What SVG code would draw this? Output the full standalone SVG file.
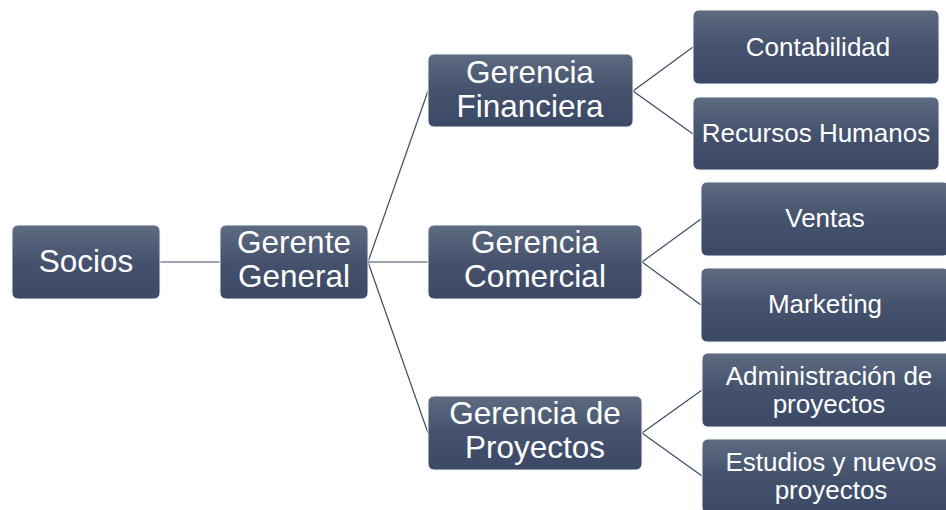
<svg xmlns="http://www.w3.org/2000/svg" width="946" height="510" viewBox="0 0 946 510">
<defs>
<linearGradient id="g" x1="0" y1="0" x2="0" y2="1">
<stop offset="0" stop-color="#5e6b81"/>
<stop offset="0.5" stop-color="#44526d"/>
<stop offset="1" stop-color="#3b4966"/>
</linearGradient>
</defs>
<style>
.box{fill:url(#g);stroke:#f2f4f7;stroke-width:1}
.t{font-family:"Liberation Sans",Arial,sans-serif;fill:#ffffff;text-anchor:middle}
.big{font-size:31.5px}
.sm{font-size:26px}
.c{stroke:#3d4b66;stroke-width:1.2;fill:none}
</style>
<rect width="946" height="510" fill="#ffffff"/>
<g id="connectors">
<line class="c" x1="160" y1="262" x2="220" y2="262"/>
<line class="c" x1="368" y1="262" x2="428" y2="91"/>
<line class="c" x1="368" y1="262" x2="428" y2="262"/>
<line class="c" x1="368" y1="262" x2="428" y2="433"/>
<line class="c" x1="633" y1="91" x2="693" y2="47"/>
<line class="c" x1="633" y1="91" x2="693" y2="134"/>
<line class="c" x1="642" y1="262" x2="701" y2="219"/>
<line class="c" x1="642" y1="262" x2="701" y2="305"/>
<line class="c" x1="642" y1="433" x2="702" y2="390"/>
<line class="c" x1="642" y1="433" x2="702" y2="476"/>
</g>
<g id="socios">
<rect class="box" x="12" y="225" width="148" height="74" rx="6"/>
<text class="t big" x="86" y="272">Socios</text>
</g>
<g id="gerente-general">
<rect class="box" x="220" y="225" width="148" height="74" rx="6"/>
<text class="t big" x="294" y="253">Gerente</text>
<text class="t big" x="294" y="287">General</text>
</g>
<g id="gerencia-financiera">
<rect class="box" x="428" y="54" width="205" height="73" rx="6"/>
<text class="t big" x="530" y="83">Gerencia</text>
<text class="t big" x="530" y="117">Financiera</text>
</g>
<g id="gerencia-comercial">
<rect class="box" x="428" y="225" width="214" height="74" rx="6"/>
<text class="t big" x="535" y="253">Gerencia</text>
<text class="t big" x="535" y="287">Comercial</text>
</g>
<g id="gerencia-proyectos">
<rect class="box" x="428" y="396" width="214" height="74" rx="6"/>
<text class="t big" x="535" y="424">Gerencia de</text>
<text class="t big" x="535" y="458">Proyectos</text>
</g>
<g id="contabilidad">
<rect class="box" x="693" y="10" width="246" height="74" rx="6"/>
<text class="t sm" x="818" y="56">Contabilidad</text>
</g>
<g id="recursos-humanos">
<rect class="box" x="693" y="97" width="246" height="73" rx="6"/>
<text class="t sm" x="816" y="142">Recursos Humanos</text>
</g>
<g id="ventas">
<rect class="box" x="701" y="182" width="248" height="74" rx="6"/>
<text class="t sm" x="825" y="227">Ventas</text>
</g>
<g id="marketing">
<rect class="box" x="701" y="268" width="248" height="74" rx="6"/>
<text class="t sm" x="825" y="313">Marketing</text>
</g>
<g id="administracion-proyectos">
<rect class="box" x="702" y="353" width="252" height="74" rx="6"/>
<text class="t sm" x="829" y="385">Administración de</text>
<text class="t sm" x="829" y="413">proyectos</text>
</g>
<g id="estudios-nuevos-proyectos">
<rect class="box" x="702" y="439" width="252" height="74" rx="6"/>
<text class="t sm" x="831" y="471">Estudios y nuevos</text>
<text class="t sm" x="831" y="499">proyectos</text>
</g>
</svg>
